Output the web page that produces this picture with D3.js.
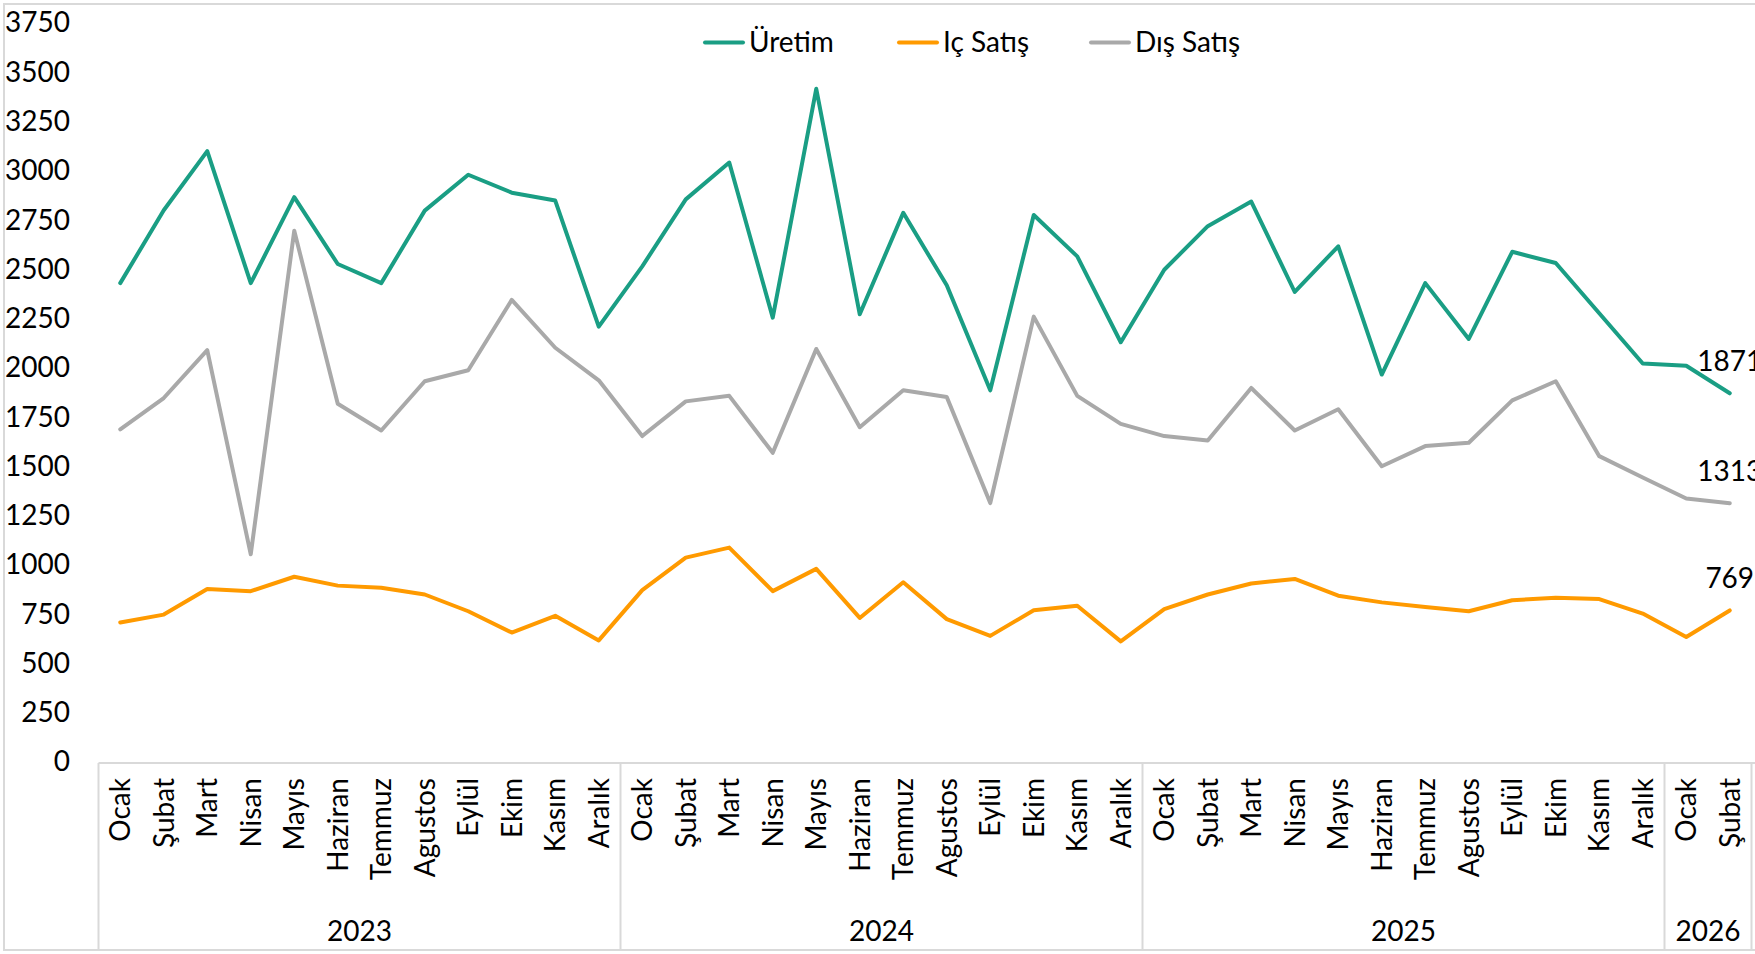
<!DOCTYPE html>
<html><head><meta charset="utf-8">
<script src="https://cdn.jsdelivr.net/npm/d3@7"></script>
<style>
html,body{margin:0;padding:0;background:#fff;}
svg{display:block;font-family:Lato,"Noto Sans",sans-serif;}
</style></head>
<body><svg id="c" width="1755" height="954"></svg>
<script>
const months = ["Ocak","Şubat","Mart","Nisan","Mayıs","Haziran","Temmuz","Agustos","Eylül","Ekim","Kasım","Aralık"];
const years = ["2023","2024","2025","2026"];
const yearCounts = [12,12,12,2];
const seriesNames = ["Üretim","Iç Satış","Dış Satış"];
const seriesColors = ["#1A9E84","#FF9A00","#A9A9A9"];
const uretim = [2430,2800,3100,2430,2866,2527,2430,2798,2980,2889,2849,2209,
  2515,2855,3042,2255,3416,2272,2787,2419,1886,2776,2566,2130,
  2498,2719,2844,2385,2617,1966,2430,2147,2589,2532,2277,2022,
  2011,1871];
const icSatis = [708,748,878,867,940,895,884,850,765,657,742,617,
  872,1037,1088,867,980,731,912,725,640,770,793,612,
  776,850,906,929,844,810,787,765,821,833,827,753,
  634,769];
const disSatis = [1688,1847,2090,1054,2696,1818,1682,1932,1988,2345,2102,1937,
  1654,1830,1858,1569,2096,1699,1886,1852,1314,2260,1858,1716,
  1654,1631,1898,1682,1790,1501,1603,1620,1835,1932,1552,1444,
  1337,1313];
const yTicks = [0,250,500,750,1000,1250,1500,1750,2000,2250,2500,2750,3000,3250,3500,3750];

const cats = [];
yearCounts.forEach((n,yi)=>{ for(let m=0;m<n;m++) cats.push({year:years[yi],month:months[m],key:years[yi]+"-"+m}); });
const seriesData = [uretim, icSatis, disSatis];

const svg = d3.select("#c");
const left = 98.5, right = 98.5 + 43.5*cats.length;
const top0 = 23, base = 762, bottom = 950;
const x = d3.scaleBand().domain(cats.map(d=>d.key)).range([left,right]).padding(0);
const y = d3.scaleLinear().domain([0,3750]).range([base,top0]);
const grey = "#D9D9D9";

// outer border
svg.append("rect").attr("x",4).attr("y",4).attr("width",1800).attr("height",bottom-4)
  .attr("fill","none").attr("stroke",grey).attr("stroke-width",2);

// y axis labels
const yAxis = d3.axisLeft(y).tickValues(yTicks).tickSize(0).tickPadding(0).tickFormat(d3.format("d"));
const yg = svg.append("g").attr("transform","translate(70,0)").call(yAxis);
yg.select(".domain").remove();
yg.selectAll("text").attr("font-size",28).attr("fill","#000").attr("font-family","Lato");

// x axis box
svg.append("line").attr("x1",left).attr("x2",right+10).attr("y1",base+1).attr("y2",base+1)
  .attr("stroke",grey).attr("stroke-width",2);
let idx = 0;
const edges = [0];
yearCounts.forEach(n=>{ idx+=n; edges.push(idx); });
edges.forEach(e=>{
  const xx = e < cats.length ? x(cats[e].key) : right;
  svg.append("line").attr("x1",xx).attr("x2",xx).attr("y1",base+1).attr("y2",bottom)
    .attr("stroke",grey).attr("stroke-width",2);
});
// month labels
const xAxis = d3.axisBottom(x).tickSize(0).tickFormat(k=>cats.find(c=>c.key===k).month);
const xg = svg.append("g").attr("transform",`translate(0,${base})`).call(xAxis);
xg.select(".domain").remove();
xg.selectAll("text").attr("font-size",28).attr("fill","#000").attr("font-family","Lato")
  .attr("text-anchor","end").attr("transform","rotate(-90)")
  .attr("x",-16).attr("y",0).attr("dy","0.36em");
// year labels
years.forEach((yr,i)=>{
  const a = x(cats[edges[i]].key);
  const b = edges[i+1] < cats.length ? x(cats[edges[i+1]].key) : right;
  svg.append("text").attr("x",(a+b)/2).attr("y",941).attr("text-anchor","middle")
    .attr("font-size",28).attr("fill","#000").text(yr);
});

// lines
const line = d3.line().x((d,i)=>x(cats[i].key)+x.bandwidth()/2).y(d=>y(d)).curve(d3.curveLinear);
[2,1,0].forEach(si=>{
  svg.append("path").datum(seriesData[si]).attr("d",line).attr("fill","none")
    .attr("stroke",seriesColors[si]).attr("stroke-width",4).attr("stroke-linejoin","round").attr("stroke-linecap","round");
});
// end labels (clipped at right edge, as in the reference)
seriesData.forEach((s,si)=>{
  const i = s.length-1;
  svg.append("text").attr("x",x(cats[i].key)+x.bandwidth()/2).attr("y",y(s[i])-32)
    .attr("dy","0.35em").attr("text-anchor","middle").attr("font-size",28).attr("fill","#000").text(s[i]);
});

// legend
const legX = [705,899,1091];
seriesNames.forEach((n,i)=>{
  svg.append("line").attr("x1",legX[i]).attr("x2",legX[i]+38).attr("y1",42.5).attr("y2",42.5)
    .attr("stroke",seriesColors[i]).attr("stroke-width",4).attr("stroke-linecap","round");
  svg.append("text").attr("x",legX[i]+44).attr("y",42.5).attr("dy","0.35em")
    .attr("font-size",28).attr("fill","#000").text(n);
});
</script></body></html>
